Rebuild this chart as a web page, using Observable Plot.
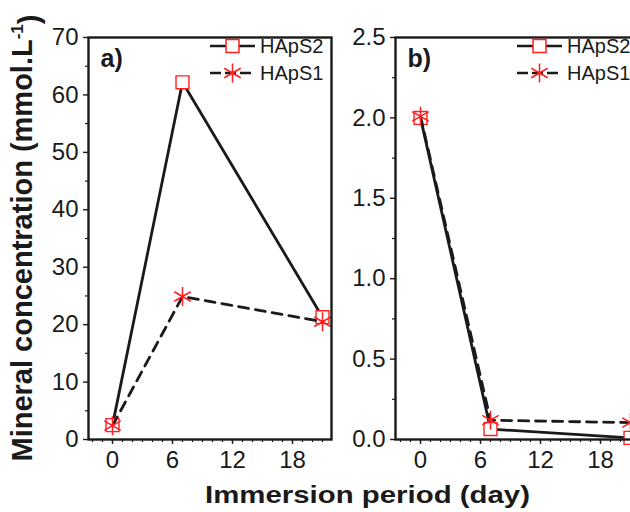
<!DOCTYPE html>
<html>
<head>
<meta charset="utf-8">
<script src="https://cdn.jsdelivr.net/npm/d3@7"></script>
<script src="https://cdn.jsdelivr.net/npm/@observablehq/plot@0.6"></script>
<style>
  html, body { margin: 0; padding: 0; background: #fff; }
  #wrap { position: relative; width: 630px; height: 512px; overflow: hidden; background: #fff; }
  .panel { position: absolute; top: 0; }
  .panel svg { max-width: none !important; }
  #overlay { position: absolute; left: 0; top: 0; }
</style>
</head>
<body>
<div id="wrap">
  <div id="pa" class="panel" style="left:0px;width:340px"></div>
  <div id="pb" class="panel" style="left:340px;width:295px"></div>
</div>
<script>
// ---- data ----
const days = [0, 7, 21];
const seriesNames = ["HApS2", "HApS1"];
const panelA_HApS2 = [2.5, 62.2, 21.3];
const panelA_HApS1 = [2.4, 24.9, 20.5];
const panelB_HApS2 = [2.0, 0.065, 0.01];
const panelB_HApS1 = [2.01, 0.12, 0.105];
const xTicks = [0, 6, 12, 18];
const xMinorTicks = d3.range(-2, 22);
const panelA_yTicks = [0, 10, 20, 30, 40, 50, 60, 70];
const panelA_yMinor = [5, 15, 25, 35, 45, 55, 65];
const panelB_yTicks = [0, 0.5, 1.0, 1.5, 2.0, 2.5];
const panelB_yMinor = [0.25, 0.75, 1.25, 1.75, 2.25];
const panelLabels = ["a)", "b)"];
const xTitle = "Immersion period (day)";
const yTitle = "Mineral concentration (mmol.L";

// ---- style ----
const fontFamily = '"Liberation Sans", Arial, Helvetica, sans-serif';
const ink = "#1a1a1a";
const red = "#ff1f1f";

function panel(cfg) {
  const s2 = days.map((d, i) => ({day: d, value: cfg.s2[i]}));
  const s1 = days.map((d, i) => ({day: d, value: cfg.s1[i]}));
  return Plot.plot({
    width: cfg.width,
    height: 470,
    marginLeft: cfg.marginLeft,
    marginRight: cfg.marginRight,
    marginTop: 37,
    marginBottom: 31,
    x: {domain: cfg.xDomain},
    y: {domain: cfg.yDomain},
    style: {fontFamily, fontSize: "24px", color: ink, background: "transparent", overflow: "visible", maxWidth: "none"},
    marks: [
      Plot.axisX(xMinorTicks, {tickSize: 3, tickFormat: () => "", label: null, strokeWidth: 1.2}),
      Plot.axisX(xTicks, {tickSize: 5, tickPadding: 6, label: null, strokeWidth: 1.4, fontSize: 24}),
      Plot.axisY(cfg.yMinor, {tickSize: 3, tickFormat: () => "", label: null, strokeWidth: 1.2}),
      Plot.axisY(cfg.yTicks, {tickSize: 5, tickPadding: 5, tickFormat: cfg.fmt, label: null, strokeWidth: 1.4, fontSize: 24}),
      Plot.line(s2, {x: "day", y: "value", stroke: ink, strokeWidth: 2.8}),
      Plot.dot(s2, {x: "day", y: "value", symbol: "square", r: 7.3, stroke: red, fill: "white", strokeWidth: 1.4}),
      Plot.line(s1, {x: "day", y: "value", stroke: ink, strokeWidth: 2.8, strokeDasharray: "10,7"}),
      Plot.dot(s1, {x: "day", y: "value", symbol: "asterisk", r: 9, stroke: red, strokeWidth: 1.5}),
      Plot.frame({stroke: ink, strokeWidth: 2.4}),
      Plot.text([cfg.label], {frameAnchor: "top-left", dx: 12, dy: 12, text: d => d, fontSize: 25,
        fontWeight: "bold", textAnchor: "start", lineAnchor: "top", fill: ink})
    ]
  });
}

document.getElementById("pa").append(panel({
  s2: panelA_HApS2, s1: panelA_HApS1, width: 340, marginLeft: 88, marginRight: 9,
  xDomain: [-2.4, 21.9], yDomain: [0, 70], yTicks: panelA_yTicks, yMinor: panelA_yMinor,
  fmt: d3.format("d"), label: panelLabels[0]
}));
document.getElementById("pb").append(panel({
  s2: panelB_HApS2, s1: panelB_HApS1, width: 295, marginLeft: 55, marginRight: 2,
  xDomain: [-2.5, 21.3], yDomain: [0, 2.5], yTicks: panelB_yTicks, yMinor: panelB_yMinor,
  fmt: d3.format(".1f"), label: panelLabels[1]
}));

// ---- overlay: legends and axis titles ----
const svg = d3.select("#wrap").append("svg").attr("id", "overlay")
  .attr("width", 630).attr("height", 512)
  .style("font-family", fontFamily);

function legend(x0, y0) {
  const g = svg.append("g").attr("transform", `translate(${x0},${y0})`);
  seriesNames.forEach((name, i) => {
    const gy = i * 27;
    g.append("line").attr("x1", 0).attr("x2", 45).attr("y1", gy).attr("y2", gy)
      .attr("stroke", ink).attr("stroke-width", 2.6)
      .attr("stroke-dasharray", i === 0 ? null : "11,4");
    const sym = i === 0 ? d3.symbolSquare : d3.symbolAsterisk;
    g.append("path").attr("transform", `translate(22.5,${gy})`)
      .attr("d", d3.symbol(sym, Math.PI * (i === 0 ? 7.3 * 7.3 : 9 * 9))())
      .attr("fill", i === 0 ? "white" : "none").attr("stroke", red).attr("stroke-width", 1.5);
    g.append("text").attr("x", 50).attr("y", gy).attr("dy", "0.36em")
      .attr("font-size", 20).attr("fill", ink).text(name);
  });
}
legend(210, 46);
legend(517, 46);

svg.append("text").attr("x", 367.5).attr("y", 503).attr("text-anchor", "middle")
  .attr("font-size", 24).attr("font-weight", "bold").attr("fill", ink)
  .attr("textLength", 325).attr("lengthAdjust", "spacingAndGlyphs")
  .text(xTitle);

const yt = svg.append("text").attr("transform", "translate(32,238) rotate(-90)")
  .attr("text-anchor", "middle").attr("font-size", 29).attr("font-weight", "bold").attr("fill", ink)
  .attr("textLength", 447).attr("lengthAdjust", "spacingAndGlyphs");
yt.append("tspan").text(yTitle);
yt.append("tspan").attr("dy", "-0.55em").attr("font-size", 17).text("-1");
yt.append("tspan").attr("dy", "0.55em").text(")");
</script>
</body>
</html>
